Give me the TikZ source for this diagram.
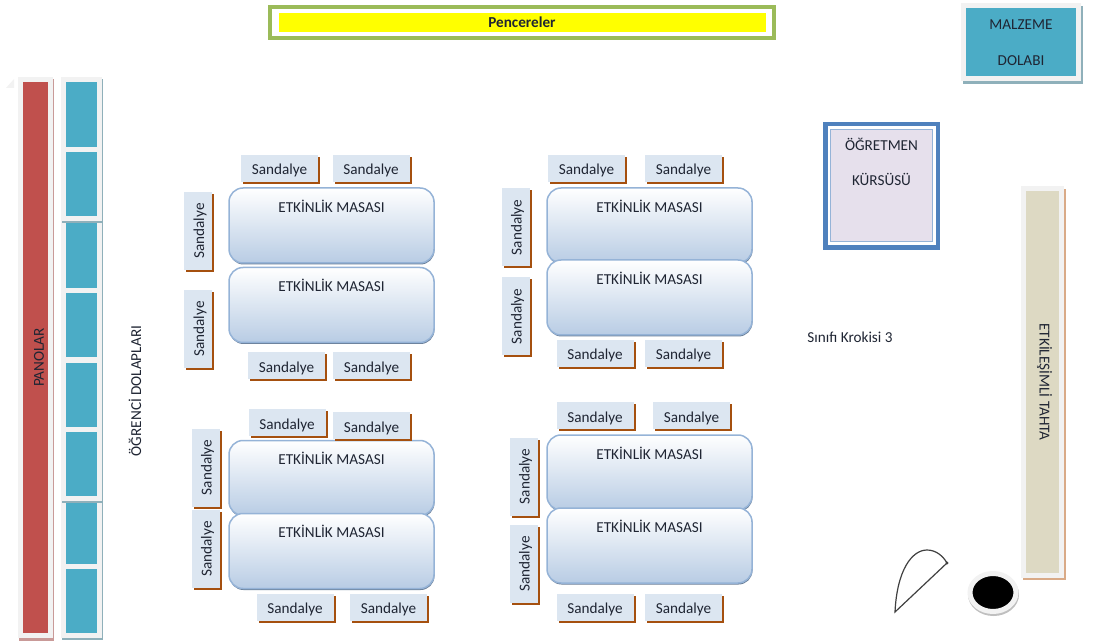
\documentclass[tikz,border=0pt]{standalone}
\usepackage{graphicx}
\usepackage{fontspec}
\setmainfont{Carlito}
\usetikzlibrary{shadows,positioning,shapes.geometric}
\definecolor{dolapmavi}{HTML}{4BACC6}
\definecolor{dolapgolge}{HTML}{8FB0BA}
\definecolor{kirmizi}{HTML}{C0504D}
\definecolor{panogolge}{HTML}{C99A98}
\definecolor{cerceve}{HTML}{F2F2F2}
\definecolor{sandalyemavi}{HTML}{DCE6F1}
\definecolor{sandalyegolge}{HTML}{A5500F}
\definecolor{masamavi}{HTML}{B8CCE4}
\definecolor{masacizgi}{HTML}{95B3D7}
\definecolor{yazi}{HTML}{1F2533}
\definecolor{sari}{HTML}{FFFF00}
\definecolor{yesil}{HTML}{9BBB59}
\definecolor{lacivert}{HTML}{4F81BD}
\definecolor{kursurenk}{HTML}{E6E0EC}
\definecolor{tahtarenk}{HTML}{DDD9C3}
\definecolor{tahtagolge}{HTML}{D9AA87}
\begin{document}
\begin{tikzpicture}[x=1pt, y=-1pt, font=\fontsize{15.2}{17}\selectfont, text=yazi,
	kutu/.style = {draw=cerceve, line width=5, inner sep=0, outer sep=0},
	dolap/.style = {kutu, fill=dolapmavi, minimum width=36, drop shadow={shadow xshift=0.5, shadow yshift=2, draw=dolapgolge, line width=5, fill=none, opacity=1}},
	oturak/.style = {fill=sandalyemavi, inner sep=0, drop shadow={shadow xshift=2, shadow yshift=2, fill=sandalyegolge, opacity=1}},
	sandalye/.style = {oturak, minimum width=77, minimum height=27, text height=13, text depth=0},
	dikey/.style = {oturak, minimum width=28, minimum height=78},
	masa/.style = {draw=masacizgi, line width=1.5, rounded corners=14, top color=white, bottom color=masamavi, minimum width=205, minimum height=75, label={[anchor=north, yshift=-9]north:ETKİNLİK MASASI}, drop shadow={shadow xshift=0.5, shadow yshift=1.5, fill=black!30!masacizgi, opacity=1}}]
	\useasboundingbox (0,0) rectangle (1093,644);
	% pencereler
	\node[draw=yesil, line width=4, fill=white, minimum width=504, minimum height=31, inner sep=0] (pencere) at (522,22.5) {};
	\node[fill=sari, minimum width=487, minimum height=19, inner sep=0, text height=11, text depth=0, font=\fontsize{15.2}{17}\selectfont\bfseries] (camlar) at (pencere.center) {Pencereler};
	% panolar ve dolaplar
	\fill[cerceve] (6,88) -- (14,79) -- (14,88) -- cycle;
	\node[kutu, fill=kirmizi, minimum width=30, minimum height=556, drop shadow={shadow xshift=1, shadow yshift=2.5, draw=panogolge, line width=5, fill=none, opacity=1}] (pano) at (35.5,357.5) {\hspace{7pt}\rotatebox{90}{PANOLAR}};
	\foreach \i/\c/\h in {3/255.5/70, 4/325/69, 5/395/69, 7/533/67, 8/601/69, 6/464/69, 1/114.5/70, 2/184/69}
		\node[dolap, minimum height=\h] (dolap\i) at (81.5,\c) {};
	\node (dolaplar) at (135,391) {\rotatebox{90}{ÖĞRENCİ DOLAPLARI}};
	% masalar
	\foreach \i/\x/\y in {a/331.5/225.5, b/331.5/305, c/331.5/478, d/331.5/551, e/649.5/225.5, f/649.5/297.5, g/649.5/472.5, h/649.5/545.5}
		\node[masa] (masa\i) at (\x,\y) {};
	% sandalyeler
	\foreach \i/\x/\y in {1/279.5/168.5, 2/371/168.5, 3/286.5/366, 4/371.5/366, 5/287/422.5, 6/371.5/425.5, 7/295/607, 8/388.5/607, 9/586.5/168.5, 10/683.5/168.5, 11/595/353.5, 12/683.5/353.5, 13/595/415.5, 14/691.5/415.5, 15/595/607, 16/683.5/607}
		\node[sandalye] (sandalye\i) at (\x,\y) {Sandalye};
	\foreach \i/\x/\y in {1/198/231, 2/198/329, 3/205.5/467.5, 4/205.5/549, 5/515.5/227.5, 6/515.5/316.5, 7/523.5/476.5, 8/523.5/564}
		\node[dikey] (yan\i) at (\x,\y) {\hspace{4pt}\rotatebox{90}{Sandalye}};
	% kursu, dolap, tahta
	\node[kutu, fill=dolapmavi, minimum width=115, minimum height=73, align=center, drop shadow={shadow xshift=1.5, shadow yshift=2.5, draw=dolapgolge, line width=5, fill=none, opacity=1}] (malzeme) at (1021,42.5) {MALZEME\\[18.5pt]DOLABI};
	\node[draw=lacivert, line width=4.5, fill=white, minimum width=112.5, minimum height=123.5, inner sep=0] (kursu) at (881.5,186) {};
	\node[draw=masacizgi, line width=1, fill=kursurenk, minimum width=102, minimum height=112, inner sep=0, label={[anchor=north, yshift=-5, align=center]north:ÖĞRETMEN\\[18.5pt]KÜRSÜSÜ}] (kursuic) at (kursu.center) {};
	\node[kutu, fill=tahtarenk, minimum width=38, minimum height=386, drop shadow={shadow xshift=1.5, shadow yshift=2.5, draw=tahtagolge, line width=5, fill=none, opacity=1}] (tahta) at (1042.5,382) {\hspace{4pt}\rotatebox{-90}{ETKİLEŞİMLİ TAHTA}};
	\node (kroki) at (850,337) {Sınıfı Krokisi 3};
	% kapi ve cop kutusu
	\coordinate (kapi1) at (895,612);
	\coordinate (kapi2) at (947,563);
	\draw[black!75, line width=1.2] (kapi1) .. controls (897,570) and (912,550) .. (927,550) .. controls (936,550) and (943,556) .. (kapi2) -- cycle;
	\fill[black!75] (kapi2) circle (1.6);
	\node[ellipse, draw=cerceve, fill=black, line width=5, minimum width=46, minimum height=38, inner sep=0, drop shadow={shadow xshift=0.5, shadow yshift=2, draw=black!25, line width=5, fill=none, opacity=1}] (cop) at (993,592.5) {};
\end{tikzpicture}
\end{document}
